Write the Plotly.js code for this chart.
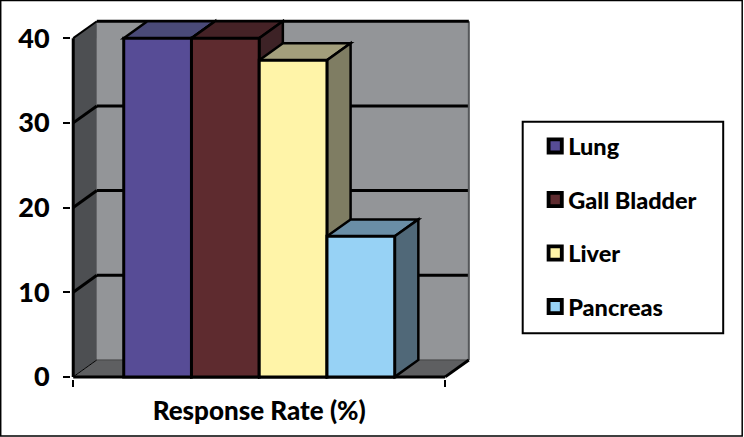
<!DOCTYPE html>
<html>
<head>
<meta charset="utf-8">
<script src="https://cdn.plot.ly/plotly-3.0.1.min.js"></script>
<style>html,body{margin:0;padding:0;background:#fff}#chart{width:744px;height:437px}</style>
</head>
<body>
<div id="chart"></div>
<script>
const category = ['Response Rate (%)'];
const seriesNames = ['Lung', 'Gall Bladder', 'Liver', 'Pancreas'];
const seriesValues = [40, 40, 37.4, 16.6];
const frontColors = ['#574c96', '#5e2b2f', '#fff4a8', '#97d2f5'];
const topColors = ['#4a4a78', '#452226', '#a39f7c', '#6a8ea6'];
const sideColors = ['#3a3050', '#3d2226', '#7f7d63', '#506878'];
const yTicks = [0, 10, 20, 30, 40];

// Plot-area geometry
const L = 70.8, R = 471.8, T = 16.95, B = 378.6, W = 744, H = 437;
const xRange = [-0.506, 0.572], yRange = [-0.25, 42.5];
const dx = 0.0635, dy = 2.0;           // oblique depth in data units
const gap = 0.2715, barW = (1 - gap) / seriesNames.length;
const px = v => (v - L) / (R - L), py = v => (B - v) / (B - T);

const poly = (pts, fill, lw, lc, layer) => ({
  type: 'path', xref: 'x', yref: 'y', layer: layer || 'below',
  path: 'M' + pts.map(p => p[0] + ',' + p[1]).join('L') + 'Z',
  fillcolor: fill, line: {color: lc || '#000', width: lw}
});
const seg = (x0, y0, x1, y1, w, c) => ({
  type: 'line', xref: 'x', yref: 'y', layer: 'below', x0, y0, x1, y1,
  line: {color: c || '#000', width: w}
});

const x0 = -0.5, x1 = 0.5;
const shapes = [];
// back wall, left wall, floor
shapes.push(poly([[x0 + dx, dy], [x1 + dx, dy], [x1 + dx, 40 + dy], [x0 + dx, 40 + dy]], '#939598', 0, 'rgba(0,0,0,0)'));
shapes.push(poly([[x0, 0], [x0 + dx, dy], [x0 + dx, 40 + dy], [x0, 40]], '#4d4f52', 0, 'rgba(0,0,0,0)'));
shapes.push(poly([[x0, 0], [x1, 0], [x1 + dx, dy], [x0 + dx, dy]], '#5e5f61', 0, 'rgba(0,0,0,0)'));
// gridlines on walls
[10, 20, 30].forEach(v => {
  shapes.push(seg(x0 + dx, v + dy, x1 + dx, v + dy, 3));
  shapes.push(seg(x0, v, x0 + dx, v + dy, 3));
});
// wall edges
shapes.push(seg(x1 + dx, dy, x1 + dx, 40 + dy, 2, '#55575a'));
shapes.push(seg(x0 + dx, dy, x1 + dx, dy, 1, '#444'));
shapes.push(seg(x0 + dx, 40 + dy, x1 + dx, 40 + dy, 3));
shapes.push(seg(x0, 40, x0 + dx, 40 + dy, 2));
shapes.push(seg(x0, 0, x0 + dx, dy, 1));
shapes.push(seg(x0, 0, x0, 40, 3));
shapes.push(seg(x0, 0, x1, 0, 3));
shapes.push(seg(x1, 0, x1 + dx, dy, 3));
// oblique faces of the bars
seriesValues.forEach((v, i) => {
  const a = -(1 - gap) / 2 + i * barW, b = a + barW;
  shapes.push(poly([[a, v], [b, v], [b + dx, v + dy], [a + dx, v + dy]], topColors[i], 2.5));
  shapes.push(poly([[b, 0], [b + dx, dy], [b + dx, v + dy], [b, v]], sideColors[i], 2.5));
});
// legend box and picture frame
shapes.push({type: 'rect', xref: 'paper', yref: 'paper', layer: 'below',
  x0: px(522.5), x1: px(723), y0: py(333), y1: py(121.5), fillcolor: '#fff', line: {color: '#000', width: 2}});
shapes.push({type: 'rect', xref: 'paper', yref: 'paper', layer: 'above',
  x0: px(0.5), x1: px(742), y0: py(435.5), y1: py(0.5), line: {color: '#000', width: 1.5}});

const traces = seriesNames.map((name, i) => ({
  type: 'bar', name, x: category, y: [seriesValues[i]], legendgroup: name,
  marker: {color: frontColors[i], line: {color: '#000', width: 3}},
  hoverinfo: 'skip'
}));

const font = {family: 'Lato, "Open Sans", sans-serif', color: '#000', weight: 900};
const layout = {
  width: W, height: H,
  margin: {l: L, r: W - R, t: T, b: H - B, pad: 0, autoexpand: false},
  paper_bgcolor: '#fff', plot_bgcolor: 'rgba(0,0,0,0)',
  barmode: 'group', bargap: gap, bargroupgap: 0,
  showlegend: true,
  legend: {
    x: px(535), xanchor: 'left', y: py(124), yanchor: 'top',
    bgcolor: 'rgba(0,0,0,0)', borderwidth: 0,
    font: {...font, size: 23.5}, tracegroupgap: 20, traceorder: 'grouped',
    itemclick: false, itemdoubleclick: false
  },
  xaxis: {
    type: 'category', range: xRange, showgrid: false, zeroline: false, showline: false,
    tickson: 'boundaries', ticks: 'outside', ticklen: 7, tickwidth: 2, tickcolor: '#000',
    ticklabelstandoff: 14, tickfont: {...font, size: 26}
  },
  yaxis: {
    range: yRange, tickmode: 'array', tickvals: yTicks, ticktext: yTicks.map(String),
    showgrid: false, zeroline: false, showline: false,
    ticks: 'outside', ticklen: 7, tickwidth: 2, tickcolor: '#000',
    ticklabelstandoff: 8, tickfont: {...font, size: 27}
  },
  shapes
};

Plotly.newPlot('chart', traces, layout, {staticPlot: true, displayModeBar: false}).then(() => {
  document.querySelectorAll('#chart .legendtext').forEach(t => t.setAttribute('x', 33));
  document.querySelectorAll('#chart .legendpoints path').forEach(p => {
    p.setAttribute('transform', 'translate(20,0) scale(1.1)');
    p.style.strokeWidth = '3.5px';
  });
});
</script>
</body>
</html>
